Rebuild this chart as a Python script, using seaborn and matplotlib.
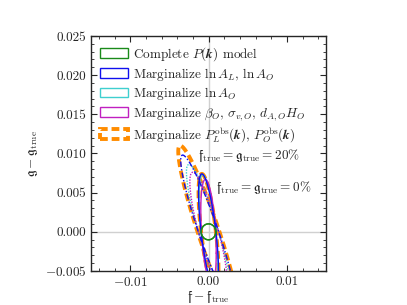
import numpy as np
import pandas as pd
import matplotlib
matplotlib.use("Agg")
import matplotlib.pyplot as plt
import seaborn as sns
from matplotlib.patches import Rectangle
from matplotlib.ticker import MultipleLocator, FuncFormatter

# ---------------- data (ellipse extents, units of 1e-3) ----------------
models = ["complete", "margAL", "margAO", "margbias", "margPobs"]
labels = [
    r"Complete $P(\boldsymbol{k})$ model",
    r"Marginalize $\ln A_L$, $\ln A_O$",
    r"Marginalize $\ln A_O$",
    r"Marginalize $\beta_O$, $\sigma_{v,O}$, $d_{A,O}H_O$",
    r"Marginalize $P_L^{\rm obs}(\boldsymbol{k})$, $P_O^{\rm obs}(\boldsymbol{k})$",
]
colors = ["#1a8a1a", "#1010ee", "#3fcfcf", "#c020c0", "#ff8c00"]

# fiducial f_true = g_true = 0%
sig_f_0 = [0.93, 1.275, 1.21, 0.985, 1.275]
sig_g_0 = [1.02, 7.40, 7.30, 6.70, 7.40]
rho_0 = [0.00, -0.667, -0.620, -0.406, -0.667]

# fiducial f_true = g_true = 20%
sig_f_20 = [0.93, 3.547, 2.818, 2.385, 3.863]
sig_g_20 = [1.02, 9.80, 8.60, 7.60, 11.00]
rho_20 = [0.00, -0.930, -0.887, -0.839, -0.932]

# ---------------- style ----------------
sns.set_style("ticks")
plt.rcParams["font.family"] = ["serif"]
plt.rcParams["font.serif"] = ["cmr10", "DejaVu Serif"]
plt.rcParams["mathtext.fontset"] = "cm"
plt.rcParams["axes.formatter.use_mathtext"] = True
FS = 9.5
plt.rcParams["font.size"] = FS

fig = plt.figure(figsize=(4.07, 3.05), dpi=100)
ax = fig.add_axes([0.2236, 0.1115, 0.5774, 0.7705])

ax.axhline(0, color="#d0d0d0", lw=1.0, zorder=0)
ax.axvline(0, color="#d0d0d0", lw=1.0, zorder=0)

t = np.linspace(0, 2 * np.pi, 400)


def ellipse_df(sf, sg, r):
    sf *= 1e-3
    sg *= 1e-3
    x = sf * np.cos(t)
    y = sg * (r * np.cos(t) + np.sqrt(1 - r * r) * np.sin(t))
    return pd.DataFrame({"x": x, "y": y})


styles_0 = ["-", "-", "-", "-", (0, (2, 1))]
styles_20 = ["-", (0, (4, 1.5, 1, 1.5)), (0, (1, 1)), (0, (1, 1)), (0, (2, 1))]
widths = [1.0, 1.0, 1.0, 1.0, 2.8]
zorders = [5, 4, 3, 3.5, 2]

for i in range(len(models)):
    for sf, sg, r, ls in [
        (sig_f_0[i], sig_g_0[i], rho_0[i], styles_0[i]),
        (sig_f_20[i], sig_g_20[i], rho_20[i], styles_20[i]),
    ]:
        df = ellipse_df(sf, sg, r)
        sns.lineplot(data=df, x="x", y="y", sort=False, estimator=None,
                     color=colors[i], lw=widths[i], ax=ax, zorder=zorders[i],
                     linestyle=ls)

ax.set_xlim(-0.015, 0.015)
ax.set_ylim(-0.005, 0.025)
ax.xaxis.set_major_locator(MultipleLocator(0.01))
ax.xaxis.set_minor_locator(MultipleLocator(0.002))
ax.yaxis.set_major_locator(MultipleLocator(0.005))
ax.yaxis.set_minor_locator(MultipleLocator(0.001))
ax.tick_params(which="both", direction="in", top=True, right=True, labelsize=FS)
ax.tick_params(which="major", length=4)
ax.tick_params(which="minor", length=2)
ax.xaxis.set_major_formatter(FuncFormatter(
    lambda v, p: ("$-$" if v < -1e-12 else "") + f"{abs(v):.2f}"))
ax.yaxis.set_major_formatter(FuncFormatter(
    lambda v, p: ("$-$" if v < -1e-12 else "") + f"{abs(v):.3f}"))

ax.set_xlabel(r"$\mathfrak{f}-\mathfrak{f}_{\rm true}$", fontsize=FS, labelpad=0)
ax.set_ylabel(r"$\mathfrak{g}-\mathfrak{g}_{\rm true}$", fontsize=FS, labelpad=3)

ax.text(-0.0013, 0.0097, r"$\mathfrak{f}_{\rm true}=\mathfrak{g}_{\rm true}=20\%$",
        fontsize=FS, va="center", ha="left")
ax.text(0.001, 0.0056, r"$\mathfrak{f}_{\rm true}=\mathfrak{g}_{\rm true}=0\%$",
        fontsize=FS, va="center", ha="left")

handles = []
for i in range(len(models)):
    handles.append(Rectangle((0, 0), 1, 1, facecolor="none", edgecolor=colors[i],
                             lw=widths[i], linestyle=(0, (2, 1)) if i == 4 else "-"))
ax.legend(handles, labels, loc="upper left", frameon=False, fontsize=FS,
          handlelength=2.1, handleheight=0.7, handletextpad=0.35,
          labelspacing=0.2, borderaxespad=0.3, borderpad=0.4)

for s in ax.spines.values():
    s.set_linewidth(1.0)

fig.savefig("out.png", dpi=100)
